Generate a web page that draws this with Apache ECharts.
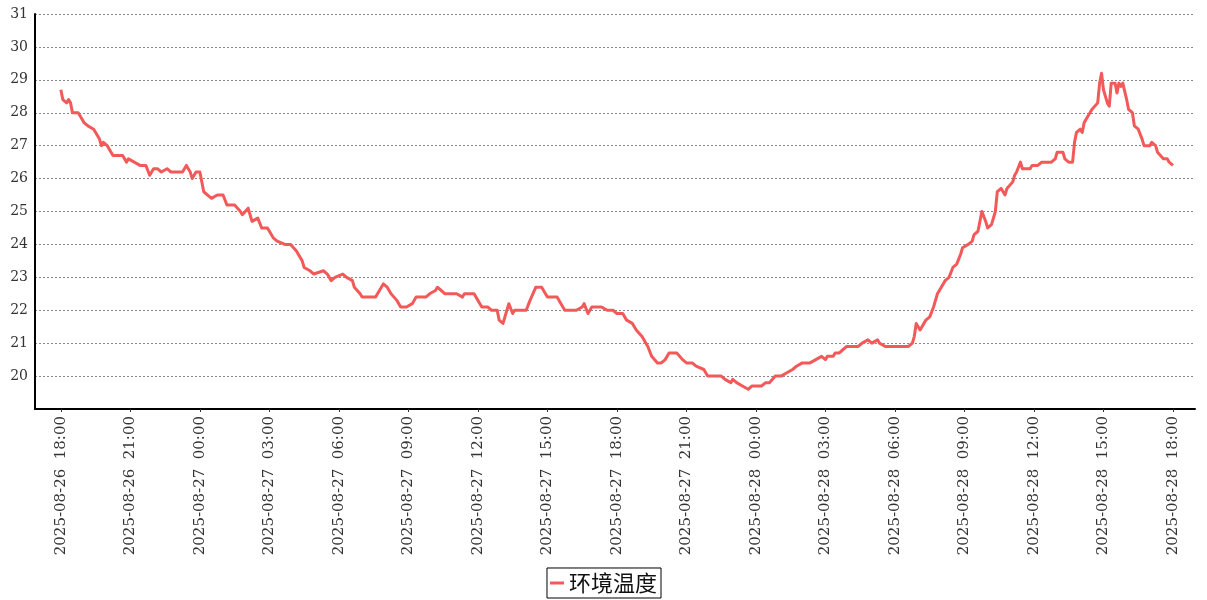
<!DOCTYPE html>
<html><head><meta charset="utf-8">
<script src="https://cdn.jsdelivr.net/npm/echarts@6/dist/echarts.min.js"></script>
<style>html,body{margin:0;padding:0;background:#fff}#c{width:1207px;height:600px}</style>
</head><body><div id="c"></div>
<script>
const seriesName = '环境温度';
const yTicks = [20,21,22,23,24,25,26,27,28,29,30,31];

const times26 = ['18:00','18:05','18:15','18:20','18:25','18:30','18:45','18:55','19:00','19:10','19:25','19:35','19:40','19:45','19:50','20:00','20:15','20:40','20:50','20:55','21:10','21:25','21:40','21:50','22:00','22:10','22:20','22:35','22:45','23:15','23:25','23:35','23:40','23:50'];
const temps26 = [28.7,28.4,28.3,28.4,28.3,28.0,28.0,27.8,27.7,27.6,27.5,27.3,27.2,27.0,27.1,27.0,26.7,26.7,26.5,26.6,26.5,26.4,26.4,26.1,26.3,26.3,26.2,26.3,26.2,26.2,26.4,26.2,26.0,26.2];

const times27 = ['00:00','00:10','00:20','00:30','00:45','01:00','01:10','01:30','01:45','01:50','02:05','02:15','02:30','02:40','02:55','03:10','03:20','03:40','03:55','04:10','04:25','04:30','04:45','04:55','05:20','05:30','05:40','05:50','06:10','06:20','06:35','06:40','06:55','07:00','07:35','07:45','07:55','08:05','08:15','08:30','08:40','08:55','09:10','09:20','09:30','09:45','09:55','10:10','10:15','10:25','10:35','11:05','11:20','11:25','11:50','12:00','12:10','12:25','12:35','12:50','12:55','13:05','13:20','13:30','13:35','14:05','14:15','14:30','14:45','15:00','15:25','15:35','15:45','16:15','16:30','16:35','16:45','16:55','17:20','17:35','17:50','18:00','18:15','18:25','18:40','18:50','19:05','19:20','19:30','19:45','19:55','20:05','20:15','20:35','20:50','21:00','21:15','21:25','21:45','21:55','22:30','22:40','22:55','23:00','23:10','23:25','23:40','23:50'];
const temps27 = [26.2,25.6,25.5,25.4,25.5,25.5,25.2,25.2,25.0,24.9,25.1,24.7,24.8,24.5,24.5,24.2,24.1,24.0,24.0,23.8,23.5,23.3,23.2,23.1,23.2,23.1,22.9,23.0,23.1,23.0,22.9,22.7,22.5,22.4,22.4,22.6,22.8,22.7,22.5,22.3,22.1,22.1,22.2,22.4,22.4,22.4,22.5,22.6,22.7,22.6,22.5,22.5,22.4,22.5,22.5,22.3,22.1,22.1,22.0,22.0,21.7,21.6,22.2,21.9,22.0,22.0,22.3,22.7,22.7,22.4,22.4,22.2,22.0,22.0,22.1,22.2,21.9,22.1,22.1,22.0,22.0,21.9,21.9,21.7,21.6,21.4,21.2,20.9,20.6,20.4,20.4,20.5,20.7,20.7,20.5,20.4,20.4,20.3,20.2,20.0,20.0,19.9,19.8,19.9,19.8,19.7,19.6,19.7];

const times28 = ['00:15','00:25','00:35','00:50','01:05','01:20','01:35','01:45','02:00','02:20','02:35','02:50','03:00','03:05','03:20','03:25','03:35','03:45','03:55','04:25','04:35','04:50','05:00','05:15','05:20','05:35','06:35','06:45','06:50','06:55','07:05','07:20','07:30','07:40','07:50','08:00','08:10','08:20','08:30','08:40','08:50','08:55','09:10','09:20','09:25','09:35','09:45','09:55','10:00','10:10','10:20','10:25','10:35','10:45','10:50','11:05','11:10','11:15','11:25','11:30','11:50','11:55','12:10','12:20','12:45','12:55','13:00','13:15','13:20','13:30','13:40','13:45','13:50','14:00','14:05','14:10','14:15','14:25','14:30','14:45','14:50','14:55','15:00','15:10','15:15','15:20','15:30','15:35','15:40','15:45','15:50','16:00','16:05','16:15','16:20','16:30','16:40','16:45','17:00','17:05','17:15','17:20','17:35','17:45','17:50','18:00'];
const temps28 = [19.7,19.8,19.8,20.0,20.0,20.1,20.2,20.3,20.4,20.4,20.5,20.6,20.5,20.6,20.6,20.7,20.7,20.8,20.9,20.9,21.0,21.1,21.0,21.1,21.0,20.9,20.9,21.0,21.2,21.6,21.4,21.7,21.8,22.1,22.5,22.7,22.9,23.0,23.3,23.4,23.7,23.9,24.0,24.1,24.3,24.4,25.0,24.7,24.5,24.6,25.0,25.6,25.7,25.5,25.7,25.9,26.1,26.2,26.5,26.3,26.3,26.4,26.4,26.5,26.5,26.6,26.8,26.8,26.6,26.5,26.5,27.1,27.4,27.5,27.4,27.7,27.8,28.0,28.1,28.3,28.9,29.2,28.7,28.3,28.2,28.9,28.9,28.6,28.9,28.8,28.9,28.4,28.1,28.0,27.6,27.5,27.2,27.0,27.0,27.1,27.0,26.8,26.6,26.6,26.5,26.4];

const xTickLabels = ['2025-08-26 18:00','2025-08-26 21:00','2025-08-27 00:00','2025-08-27 03:00','2025-08-27 06:00','2025-08-27 09:00','2025-08-27 12:00','2025-08-27 15:00','2025-08-27 18:00','2025-08-27 21:00','2025-08-28 00:00','2025-08-28 03:00','2025-08-28 06:00','2025-08-28 09:00','2025-08-28 12:00','2025-08-28 15:00','2025-08-28 18:00'];
const xMin = '2025-08-26 16:53';
const xMax = '2025-08-28 18:57';

function toTs(s){
  const m = s.match(/(\d+)-(\d+)-(\d+) (\d+):(\d+)/);
  return Date.UTC(+m[1], +m[2]-1, +m[3], +m[4], +m[5]);
}
const data = [];
[['2025-08-26', times26, temps26], ['2025-08-27', times27, temps27], ['2025-08-28', times28, temps28]].forEach(([d, ts, vs]) => {
  ts.forEach((t, i) => data.push([toTs(d + ' ' + t), vs[i]]));
});
const tickVals = xTickLabels.map(toTs);
const labelMap = {};
xTickLabels.forEach((s, i) => { labelMap[tickVals[i]] = s.replace(' ', '  '); });

const chart = echarts.init(document.getElementById('c'), null, {renderer: 'canvas'});
chart.setOption({
  animation: false,
  backgroundColor: '#fff',
  grid: {left: 35, right: 12, top: 14, bottom: 191, containLabel: false, outerBoundsMode: 'none'},
  legend: {
    data: [seriesName], bottom: 2, left: 'center', icon: 'rect', itemWidth: 14, itemHeight: 3, itemGap: 5,
    borderColor: '#000', borderWidth: 1, borderRadius: 0, padding: [4, 4, 4, 3],
    textStyle: {fontFamily: 'Noto Sans CJK SC', fontSize: 22, color: '#111'}
  },
  xAxis: {
    type: 'value', min: toTs(xMin), max: toTs(xMax), scale: true,
    splitLine: {show: false},
    axisLine: {show: true, onZero: false, lineStyle: {color: '#000', width: 2}},
    axisTick: {show: true, customValues: tickVals, length: 3, lineStyle: {color: '#333'}},
    axisLabel: {
      customValues: tickVals, rotate: 90, margin: 7, color: '#333',
      fontFamily: 'DejaVu Serif', fontSize: 15,
      formatter: v => labelMap[v] || ''
    }
  },
  yAxis: {
    type: 'value', min: 19, max: 31, interval: 1,
    axisLine: {show: true, onZero: false, lineStyle: {color: '#000', width: 2}},
    axisTick: {show: false},
    axisLabel: {showMinLabel: false, margin: 7, color: '#333', fontFamily: 'DejaVu Serif', fontSize: 14,
      formatter: v => (yTicks.indexOf(v) >= 0 ? String(v) : '')},
    splitLine: {show: true, lineStyle: {color: '#888', width: 1, type: [2, 2]}}
  },
  series: [{
    name: seriesName, type: 'line', data: data, showSymbol: false, symbol: 'none',
    lineStyle: {width: 3, color: '#f25a5a', join: 'round'}, itemStyle: {color: '#f25a5a'}
  }]
});
</script></body></html>
